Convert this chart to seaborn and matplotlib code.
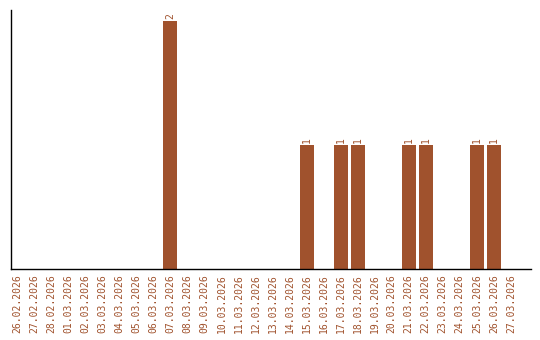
import matplotlib
matplotlib.use("Agg")
import matplotlib.pyplot as plt
import seaborn as sns
import pandas as pd

dates = ["26.02.2026", "27.02.2026", "28.02.2026", "01.03.2026", "02.03.2026",
         "03.03.2026", "04.03.2026", "05.03.2026", "06.03.2026", "07.03.2026",
         "08.03.2026", "09.03.2026", "10.03.2026", "11.03.2026", "12.03.2026",
         "13.03.2026", "14.03.2026", "15.03.2026", "16.03.2026", "17.03.2026",
         "18.03.2026", "19.03.2026", "20.03.2026", "21.03.2026", "22.03.2026",
         "23.03.2026", "24.03.2026", "25.03.2026", "26.03.2026", "27.03.2026"]
counts = [0, 0, 0, 0, 0, 0, 0, 0, 0, 2,
          0, 0, 0, 0, 0, 0, 0, 1, 0, 1,
          1, 0, 0, 1, 1, 0, 0, 1, 1, 0]

color = "#A0522D"
df = pd.DataFrame({"date": dates, "count": counts})

sns.set_style("white")
plt.rcParams["font.family"] = ["DejaVu Sans Mono", "DejaVu Sans"]

fig = plt.figure(figsize=(5.4, 3.4), dpi=100)
ax = fig.add_axes([11/540, 1 - 269/340, 520/540, 259/340])
sns.barplot(data=df, x="date", y="count", color=color, width=0.82,
            saturation=1, ax=ax, edgecolor="none")

for i, v in enumerate(counts):
    if v > 0:
        ax.text(i, v + 0.02, str(v), rotation=90, ha="center", va="bottom",
                fontsize=7, color=color)

ax.set_xlim(-0.353, 30.18)
ax.set_ylim(0, 2.09)
ax.set_yticks([])
ax.set_xlabel("")
ax.set_ylabel("")
ax.tick_params(axis="x", length=0, pad=4, labelsize=7, labelcolor=color,
               labelrotation=90)
for s in ["top", "right"]:
    ax.spines[s].set_visible(False)
for s in ["left", "bottom"]:
    ax.spines[s].set_color("black")
    ax.spines[s].set_linewidth(1)

fig.savefig("out.png", dpi=100, facecolor="white")
